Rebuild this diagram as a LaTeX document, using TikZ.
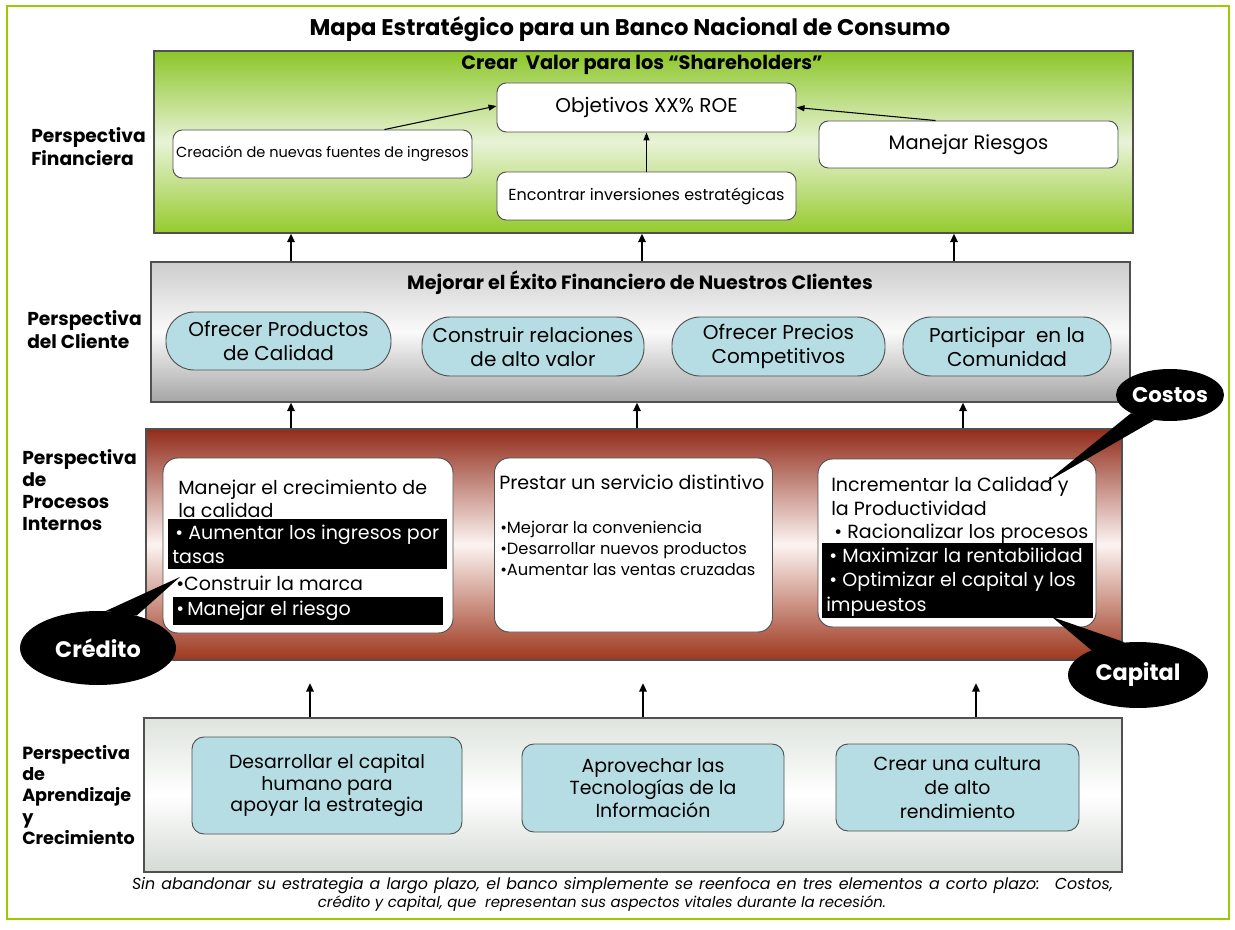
\documentclass[tikz,border=0pt]{standalone}
\usepackage{fontspec}
\setmainfont{Poppins}
\usetikzlibrary{arrows.meta,shapes.geometric,calc}
\definecolor{frameg}{RGB}{153,204,0}
\definecolor{gtop}{RGB}{140,198,40}
\definecolor{gmid}{RGB}{232,243,215}
\definecolor{gbot}{RGB}{150,202,45}
\definecolor{rtop}{RGB}{146,44,26}
\definecolor{rmid}{RGB}{252,244,242}
\definecolor{rbot}{RGB}{158,55,30}
\definecolor{ctop}{RGB}{205,205,205}
\definecolor{cmid}{RGB}{250,250,250}
\definecolor{cbot}{RGB}{165,165,165}
\definecolor{btop}{RGB}{222,228,222}
\definecolor{bbot}{RGB}{212,218,212}
\definecolor{lblue}{RGB}{183,221,228}
\definecolor{edge}{RGB}{80,80,80}
\newcommand\myfs[2]{\fontsize{#1}{#2}\selectfont}
\begin{document}
\begin{tikzpicture}[x=0.75pt,y=-0.75pt,
  sz/.style 2 args={minimum width={#1*0.75pt},minimum height={#2*0.75pt}},
  panel/.style={draw=edge,line width=0.8pt,inner sep=0pt},
  wbox/.style={draw=edge,line width=0.7pt,fill=white,rounded corners=7pt,inner sep=0pt},
  bub/.style={draw=edge,line width=0.7pt,fill=lblue,rounded corners=21pt,inner sep=0pt,align=center},
  lbox/.style={draw=edge,line width=0.7pt,fill=lblue,rounded corners=9pt,inner sep=0pt,align=center},
  ibox/.style={draw=edge,line width=0.7pt,fill=white,rounded corners=11pt,inner sep=0pt},
  txt/.style={inner sep=0pt,align=left,anchor=west},
  band/.style={fill=black,inner sep=0pt,anchor=north west},
  wtxt/.style={inner sep=0pt,align=left,anchor=west,text=white},
  plabel/.style={inner sep=0pt,align=left,anchor=west,font=\bfseries\myfs{14}{17.25}},
  uparr/.style={line width=1.6pt,-{Triangle[length=6.5pt,width=5.5pt]}},
  thinarr/.style={line width=0.8pt,-{Triangle[length=6pt,width=4.5pt]}},
  callout/.style={ellipse,fill=black,text=white,inner sep=0pt,font=\bfseries\myfs{16.8}{19}}
]
\useasboundingbox (0,0) rectangle (1235,930);
\fill[white] (0,0) rectangle (1235,930);
\draw[frameg,line width=2.2pt] (7,6) rectangle (1229,919);

% title
\node[inner sep=0pt,font=\bfseries\myfs{17}{20}] (title) at (630,29) {Mapa Estratégico para un Banco Nacional de Consumo};

% panels
\node[panel,sz={979}{182},top color=gtop,bottom color=gbot,middle color=gmid] (fin) at (643.5,142) {};
\node[panel,sz={979}{140},top color=ctop,bottom color=cbot,middle color=cmid] (cli) at (640.5,332) {};
\node[panel,sz={976}{231},top color=rtop,bottom color=rbot,middle color=rmid] (pro) at (634,544.5) {};
\node[panel,sz={978}{154},top color=btop,bottom color=bbot,middle color=white] (apr) at (633,795) {};

% left labels
\node[plabel] (lfin) at (31,146.5) {Perspectiva\\Financiera};
\node[plabel] (lcli) at (27,329.5) {Perspectiva\\del Cliente};
\node[plabel,font=\bfseries\myfs{14}{16.5}] (lpro) at (22,490) {Perspectiva\\de\\Procesos\\Internos};
\node[plabel,font=\bfseries\myfs{13.2}{16}] (lapr) at (22,795) {Perspectiva\\de\\Aprendizaje\\y\\Crecimiento};

% financial perspective
\node[inner sep=0pt,font=\bfseries\myfs{14.5}{17}] (tfin) at (642,65) {Crear~ Valor para los “Shareholders”};
\node[wbox,sz={299}{49},font=\myfs{15}{18}] (obj) at (646.5,107.5) {Objetivos XX\% ROE};
\node[wbox,sz={299}{48},font=\myfs{10.9}{13}] (cre) at (322.5,154) {Creación de nuevas fuentes de ingresos};
\node[wbox,sz={299}{47},font=\myfs{14.6}{17}] (rie) at (968.5,144.5) {Manejar Riesgos};
\node[wbox,sz={299}{48},font=\myfs{12}{14}] (inv) at (646.5,196) {Encontrar inversiones estratégicas};
\draw[thinarr] ($(cre.north)+(62,0)$) -- ($(obj.west)+(0,-1.5)$);
\draw[thinarr] ($(rie.north)+(-33,0)$) -- (obj.east);
\draw[thinarr] (inv.north) -- (obj.south);

% client perspective
\node[inner sep=0pt,font=\bfseries\myfs{14.4}{17}] (tcli) at (640,283) {Mejorar el Éxito Financiero de Nuestros Clientes};
\node[bub,sz={225}{58},font=\myfs{15}{18}] (c1) at (278.5,341) {Ofrecer Productos\\de Calidad};
\node[bub,sz={222}{59},font=\myfs{15}{18}] (c2) at (533,346.5) {Construir relaciones\\de alto valor};
\node[bub,sz={213}{59},font=\myfs{15}{18}] (c3) at (778.5,346.5) {Ofrecer Precios\\Competitivos};
\node[bub,sz={208}{59},font=\myfs{15}{18}] (c4) at (1007,346.5) {Participar~ en la\\Comunidad};

% arrows between panels
\coordinate (a1) at (291,0); \coordinate (a2) at (642,0); \coordinate (a3) at (954,0);
\draw[uparr] (cli.north -| a1) -- (fin.south -| a1);
\draw[uparr] (cli.north -| a2) -- (fin.south -| a2);
\draw[uparr] (cli.north -| a3) -- (fin.south -| a3);
\coordinate (b1) at (291,0); \coordinate (b2) at (637,0); \coordinate (b3) at (963,0);
\draw[uparr] (pro.north -| b1) -- (cli.south -| b1);
\draw[uparr] (pro.north -| b2) -- (cli.south -| b2);
\draw[uparr] (pro.north -| b3) -- (cli.south -| b3);
\coordinate (h1) at (310,683); \coordinate (h2) at (643,683); \coordinate (h3) at (976,683);
\draw[uparr] (apr.north -| h1) -- (h1);
\draw[uparr] (apr.north -| h2) -- (h2);
\draw[uparr] (apr.north -| h3) -- (h3);

% internal processes
\node[ibox,sz={290}{175}] (p1) at (308,545.5) {};
\node[ibox,sz={278}{174}] (p2) at (633.5,545) {};
\node[ibox,sz={278}{168}] (p3) at (957,543) {};

\node[txt,font=\myfs{14.3}{17.25}] (p1t) at (178,498.5) {Manejar el crecimiento de\\la calidad};
\node[band,sz={279}{50}] (p1b1) at (168,519) {};
\node[wtxt,font=\myfs{14.3}{18}] (p1b1t) at (172,544) {\,• Aumentar los ingresos por\\tasas};
\node[txt,font=\myfs{14.3}{17.25}] (p1c) at (176,583) {•Construir la marca};
\node[band,sz={270}{28}] (p1b2) at (173,597) {};
\node[wtxt,font=\myfs{14.3}{17}] (p1b2t) at (176,611) {•\,Manejar el riesgo};

\node[txt,font=\myfs{14.3}{17}] (p2t) at (499,482) {Prestar un servicio distintivo};
\node[txt,font=\myfs{12.2}{15.75}] (p2b) at (500,548) {•Mejorar la conveniencia\\•Desarrollar nuevos productos\\•Aumentar las ventas cruzadas};

\node[txt,font=\myfs{14.3}{17.5}] (p3t) at (831,510.5) {Incrementar la Calidad y\\la Productividad\\\,• Racionalizar los procesos};
\node[band,sz={271}{75}] (p3b) at (822,543) {};
\node[wtxt,font=\myfs{14.3}{18.4}] (p3bt) at (826,582) {\,• Maximizar la rentabilidad\\\,• Optimizar el capital y los\\impuestos};

% learning & growth
\node[lbox,sz={270}{97},font=\myfs{14.2}{16}] (g1) at (327,785.5) {Desarrollar el capital\\humano para\\apoyar la estrategia};
\node[lbox,sz={262}{88},font=\myfs{14.2}{17}] (g2) at (653,788) {Aprovechar las\\Tecnologías de la\\Información};
\node[lbox,sz={243}{87},font=\myfs{14.2}{18}] (g3) at (957.5,787.5) {Crear una cultura\\de alto\\rendimiento};

% caption
\node[inner sep=0pt,font=\itshape\myfs{11.9}{13}] (cap1) at (622.5,886) {\makebox[735.75pt][s]{Sin abandonar su estrategia a largo plazo, el banco simplemente se reenfoca en tres elementos a corto plazo:~ Costos,}};
\node[inner sep=0pt,font=\itshape\myfs{11.2}{13}] (cap2) at (602,904) {crédito y capital, que~ representan sus aspectos vitales durante la recesión.};

% callouts
\node[callout,minimum width={108*0.75pt},minimum height={52*0.75pt},font=\bfseries\myfs{16}{18}] (cost) at (1170,395) {Costos};
\coordinate (tcost) at (1045,483);
\fill (cost.205) -- (tcost) -- (cost.238) -- cycle;
\node[callout,minimum width={156*0.75pt},minimum height={74*0.75pt}] (cred) at (98,648) {Crédito};
\coordinate (tcred) at (180,577);
\fill (cred.40) -- (tcred) -- (cred.78) -- cycle;
\node[callout,minimum width={140*0.75pt},minimum height={66*0.75pt}] (capi) at (1138,675) {Capital};
\coordinate (tcapi) at (1052,617);
\fill (capi.112) -- (tcapi) -- (capi.152) -- cycle;
\end{tikzpicture}
\end{document}
